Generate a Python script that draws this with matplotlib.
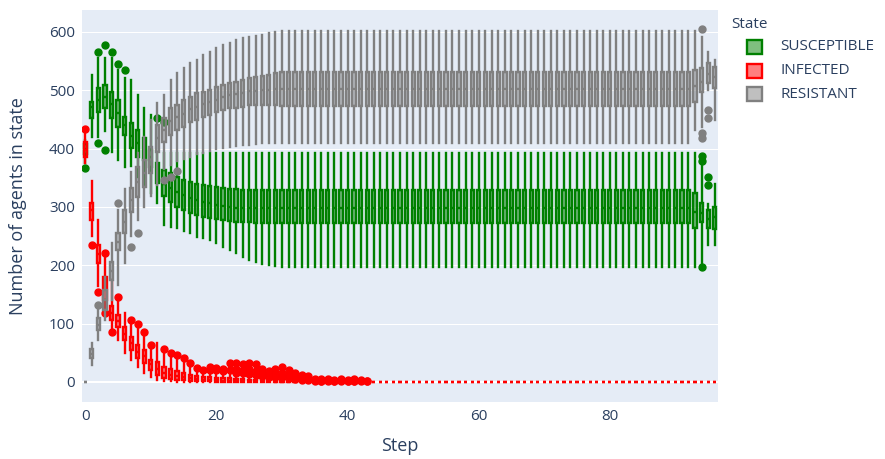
import matplotlib
matplotlib.use("Agg")
import matplotlib.pyplot as plt
from matplotlib.patches import Rectangle
from matplotlib.colors import to_rgba

W, H = 885, 459

steps = list(range(97))
states = ["SUSCEPTIBLE", "INFECTED", "RESISTANT"]
state_colors = ["green", "red", "gray"]

# ---------------- SUSCEPTIBLE ----------------
S_lo = [375, 420, 420, 430, 395, 381, 369, 370, 352, 335,
        324, 307, 269, 266, 264, 258, 255, 249, 246, 243,
        238, 232, 226, 221, 215, 209, 206, 202, 200, 198,
        197, 197, 197, 197, 197, 197, 197, 197, 197, 197,
        197, 197, 197, 197, 197, 197, 197, 197, 197, 197,
        197, 197, 197, 197, 197, 197, 197, 197, 197, 197,
        197, 197, 197, 197, 197, 197, 197, 197, 197, 197,
        197, 197, 197, 197, 197, 197, 197, 197, 197, 197,
        197, 197, 197, 197, 197, 197, 197, 197, 197, 197,
        197, 197, 197, 197, 204, 235, 235]
S_q1 = [390, 453, 463, 470, 453, 437, 424, 401, 386, 381,
        369, 341, 318, 308, 300, 295, 290, 286, 283, 281,
        279, 277, 276, 275, 274, 274, 273, 273, 273, 273,
        273, 273, 273, 273, 273, 273, 273, 273, 273, 273,
        273, 273, 273, 273, 273, 273, 273, 273, 273, 273,
        273, 273, 273, 273, 273, 273, 273, 273, 273, 273,
        273, 273, 273, 273, 273, 273, 273, 273, 273, 273,
        273, 273, 273, 273, 273, 273, 273, 273, 273, 273,
        273, 273, 273, 273, 273, 273, 273, 273, 273, 273,
        273, 273, 273, 264, 274, 264, 262]
S_med = [400, 472, 484, 488, 476, 461, 440, 422, 409, 400,
         385, 360, 340, 332, 325, 320, 316, 312, 309, 306,
         304, 302, 300, 299, 298, 298, 298, 298, 298, 298,
         298, 298, 298, 298, 298, 298, 298, 298, 298, 298,
         298, 298, 298, 298, 298, 298, 298, 298, 298, 298,
         298, 298, 298, 298, 298, 298, 298, 298, 298, 298,
         298, 298, 298, 298, 298, 298, 298, 298, 298, 298,
         298, 298, 298, 298, 298, 298, 298, 298, 298, 298,
         298, 298, 298, 298, 298, 298, 298, 298, 298, 298,
         298, 298, 298, 292, 290, 280, 282]
S_q3 = [408, 480, 504, 509, 497, 484, 455, 444, 432, 418,
        398, 376, 364, 358, 352, 346, 343, 340, 338, 336,
        334, 332, 331, 330, 329, 329, 329, 329, 329, 329,
        329, 329, 329, 329, 329, 329, 329, 329, 329, 329,
        329, 329, 329, 329, 329, 329, 329, 329, 329, 329,
        329, 329, 329, 329, 329, 329, 329, 329, 329, 329,
        329, 329, 329, 329, 329, 329, 329, 329, 329, 329,
        329, 329, 329, 329, 329, 329, 329, 329, 329, 329,
        329, 329, 329, 329, 329, 329, 329, 329, 329, 329,
        329, 329, 329, 324, 307, 295, 300]
S_hi = [415, 527, 556, 555, 556, 535, 521, 518, 492, 470,
        458, 393, 393, 393, 393, 393, 393, 393, 393, 393,
        393, 393, 393, 393, 393, 393, 393, 393, 393, 393,
        393, 393, 393, 393, 393, 393, 393, 393, 393, 393,
        393, 393, 393, 393, 393, 393, 393, 393, 393, 393,
        393, 393, 393, 393, 393, 393, 393, 393, 393, 393,
        393, 393, 393, 393, 393, 393, 393, 393, 393, 393,
        393, 393, 393, 393, 393, 393, 393, 393, 393, 393,
        393, 393, 393, 393, 393, 393, 393, 393, 393, 393,
        393, 393, 393, 393, 372, 305, 340]
S_out = {0: [367], 2: [566, 410], 3: [578, 398], 4: [566], 5: [545],
         6: [535], 11: [453], 12: [446], 94: [388, 378, 197], 95: [352, 338]}

# ---------------- INFECTED ----------------
I_lo = [375, 250, 165, 125, 92, 72, 50, 38, 26, 15,
        9, 3, 2, 1, 0, 0, 0, 0, 0, 0,
        0, 0, 0, 0, 0, 0, 0, 0, 0, 0,
        0, 0, 0, 0, 0, 0, 0, 0, 0, 0,
        0, 0, 0, 0, 0, 0, 0, 0, 0, 0,
        0, 0, 0, 0, 0, 0, 0, 0, 0, 0,
        0, 0, 0, 0, 0, 0, 0, 0, 0, 0,
        0, 0, 0, 0, 0, 0, 0, 0, 0, 0,
        0, 0, 0, 0, 0, 0, 0, 0, 0, 0,
        0, 0, 0, 0, 0, 0, 0]
I_q1 = [385, 278, 204, 140, 106, 95, 72, 55, 41, 33,
        21, 12, 7, 5, 4, 3, 2, 1, 1, 1,
        0, 0, 0, 0, 0, 0, 0, 0, 0, 0,
        0, 0, 0, 0, 0, 0, 0, 0, 0, 0,
        0, 0, 0, 0, 0, 0, 0, 0, 0, 0,
        0, 0, 0, 0, 0, 0, 0, 0, 0, 0,
        0, 0, 0, 0, 0, 0, 0, 0, 0, 0,
        0, 0, 0, 0, 0, 0, 0, 0, 0, 0,
        0, 0, 0, 0, 0, 0, 0, 0, 0, 0,
        0, 0, 0, 0, 0, 0, 0]
I_med = [398, 295, 220, 160, 118, 105, 83, 66, 52, 44,
         30, 22, 16, 12, 10, 8, 6, 5, 4, 3,
         3, 2, 2, 2, 1, 1, 1, 1, 1, 0,
         0, 0, 0, 0, 0, 0, 0, 0, 0, 0,
         0, 0, 0, 0, 0, 0, 0, 0, 0, 0,
         0, 0, 0, 0, 0, 0, 0, 0, 0, 0,
         0, 0, 0, 0, 0, 0, 0, 0, 0, 0,
         0, 0, 0, 0, 0, 0, 0, 0, 0, 0,
         0, 0, 0, 0, 0, 0, 0, 0, 0, 0,
         0, 0, 0, 0, 0, 0, 0]
I_q3 = [412, 307, 235, 180, 130, 115, 95, 77, 63, 55,
        38, 34, 26, 22, 18, 15, 12, 10, 9, 8,
        7, 6, 6, 5, 5, 4, 4, 3, 3, 2,
        2, 2, 1, 0, 0, 0, 0, 0, 0, 0,
        0, 0, 0, 0, 0, 0, 0, 0, 0, 0,
        0, 0, 0, 0, 0, 0, 0, 0, 0, 0,
        0, 0, 0, 0, 0, 0, 0, 0, 0, 0,
        0, 0, 0, 0, 0, 0, 0, 0, 0, 0,
        0, 0, 0, 0, 0, 0, 0, 0, 0, 0,
        0, 0, 0, 0, 0, 0, 0]
I_hi = [425, 345, 278, 214, 175, 140, 118, 101, 95, 80,
        60, 67, 50, 44, 40, 35, 28, 20, 18, 18,
        15, 12, 12, 12, 10, 10, 8, 7, 6, 5,
        5, 4, 3, 0, 0, 0, 0, 0, 0, 0,
        0, 0, 0, 0, 0, 0, 0, 0, 0, 0,
        0, 0, 0, 0, 0, 0, 0, 0, 0, 0,
        0, 0, 0, 0, 0, 0, 0, 0, 0, 0,
        0, 0, 0, 0, 0, 0, 0, 0, 0, 0,
        0, 0, 0, 0, 0, 0, 0, 0, 0, 0,
        0, 0, 0, 0, 0, 0, 0]
I_out = {0: [434], 1: [235], 2: [155], 3: [221, 118], 4: [86], 5: [146],
         7: [106], 8: [100], 9: [86], 10: [63], 12: [56], 13: [50], 14: [46],
         15: [41], 16: [33], 17: [24], 18: [21], 19: [26, 21], 20: [24, 20],
         21: [22, 18], 22: [33, 20], 23: [33, 22, 16], 24: [30, 20, 15],
         25: [33, 22, 14], 26: [30, 18, 12], 27: [22, 15, 10], 28: [18, 12, 9],
         29: [22, 14, 8], 30: [25, 16, 9], 31: [20, 12, 7], 32: [15, 8, 5],
         33: [12, 6, 3], 34: [10, 5, 3], 35: [5, 3, 1], 36: [5, 2, 1],
         37: [5, 3, 1], 38: [4, 2, 1], 39: [5, 3, 1], 40: [4, 2, 1],
         41: [5, 2, 1], 42: [3, 1], 43: [2, 1]}

# ---------------- RESISTANT ----------------
R_lo = [0, 29, 72, 106, 141, 166, 204, 250, 278, 300,
        318, 338, 365, 372, 378, 382, 386, 390, 393, 396,
        399, 401, 403, 405, 406, 407, 408, 409, 410, 410,
        410, 410, 410, 410, 410, 410, 410, 410, 410, 410,
        410, 410, 410, 410, 410, 410, 410, 410, 410, 410,
        410, 410, 410, 410, 410, 410, 410, 410, 410, 410,
        410, 410, 410, 410, 410, 410, 410, 410, 410, 410,
        410, 410, 410, 410, 410, 410, 410, 410, 410, 410,
        410, 410, 410, 410, 410, 410, 410, 410, 410, 410,
        410, 410, 410, 432, 437, 501, 449]
R_q1 = [0, 41, 89, 123, 175, 226, 255, 292, 317, 335,
        358, 395, 412, 424, 432, 437, 446, 449, 455, 458,
        463, 466, 470, 470, 472, 475, 475, 475, 475, 474,
        473, 473, 473, 473, 473, 473, 473, 473, 473, 473,
        473, 473, 473, 473, 473, 473, 473, 473, 473, 473,
        473, 473, 473, 473, 473, 473, 473, 473, 473, 473,
        473, 473, 473, 473, 473, 473, 473, 473, 473, 473,
        473, 473, 473, 473, 473, 473, 473, 473, 473, 473,
        473, 473, 473, 473, 473, 473, 473, 473, 473, 473,
        473, 473, 473, 480, 497, 513, 504]
R_med = [0, 48, 98, 140, 190, 240, 275, 312, 343, 358,
         380, 418, 432, 447, 454, 460, 468, 472, 476, 480,
         484, 488, 492, 494, 496, 498, 499, 500, 501, 502,
         503, 503, 503, 503, 503, 503, 503, 503, 503, 503,
         503, 503, 503, 503, 503, 503, 503, 503, 503, 503,
         503, 503, 503, 503, 503, 503, 503, 503, 503, 503,
         503, 503, 503, 503, 503, 503, 503, 503, 503, 503,
         503, 503, 503, 503, 503, 503, 503, 503, 503, 503,
         503, 503, 503, 503, 503, 503, 503, 503, 503, 503,
         503, 503, 503, 507, 515, 528, 522]
R_q3 = [0, 56, 110, 158, 206, 255, 295, 333, 369, 381,
        403, 441, 453, 470, 475, 484, 489, 496, 497, 501,
        506, 509, 513, 515, 518, 521, 523, 525, 527, 529,
        531, 531, 531, 531, 531, 531, 531, 531, 531, 531,
        531, 531, 531, 531, 531, 531, 531, 531, 531, 531,
        531, 531, 531, 531, 531, 531, 531, 531, 531, 531,
        531, 531, 531, 531, 531, 531, 531, 531, 531, 531,
        531, 531, 531, 531, 531, 531, 531, 531, 531, 531,
        531, 531, 531, 531, 531, 531, 531, 531, 531, 531,
        531, 531, 531, 535, 538, 547, 540]
R_hi = [0, 67, 125, 180, 238, 295, 330, 360, 393, 420,
        449, 478, 492, 518, 530, 538, 547, 552, 561, 566,
        573, 578, 581, 587, 590, 592, 593, 595, 598, 600,
        602, 602, 602, 602, 602, 602, 602, 602, 602, 602,
        602, 602, 602, 602, 602, 602, 602, 602, 602, 602,
        602, 602, 602, 602, 602, 602, 602, 602, 602, 602,
        602, 602, 602, 602, 602, 602, 602, 602, 602, 602,
        602, 602, 602, 602, 602, 602, 602, 602, 602, 602,
        602, 602, 602, 602, 602, 602, 602, 602, 602, 602,
        602, 602, 602, 602, 592, 566, 552]
R_out = {2: [132], 5: [307], 7: [232], 8: [255], 12: [346], 13: [352],
         14: [362], 94: [605, 427, 418], 95: [467, 453]}

series = [
    (S_lo, S_q1, S_med, S_q3, S_hi, S_out),
    (I_lo, I_q1, I_med, I_q3, I_hi, I_out),
    (R_lo, R_q1, R_med, R_q3, R_hi, R_out),
]

FONT = "Open Sans"
TXT = "#2a3f5f"
LW = 1.7

fig = plt.figure(figsize=(W / 100, H / 100), dpi=100)
ax = fig.add_axes([82 / W, 1 - 402 / H, 636 / W, 392 / H])
ax.set_facecolor("#E5ECF6")

for z, (name, col, (lo, q1, med, q3, hi, out)) in enumerate(zip(states, state_colors, series)):
    stats = []
    for k in range(len(steps)):
        stats.append(dict(med=med[k], q1=q1[k], q3=q3[k], whislo=lo[k],
                          whishi=hi[k], fliers=out.get(k, [])))
    ax.bxp(stats, positions=steps, widths=0.49, showcaps=False,
           patch_artist=True, showfliers=True, manage_ticks=False,
           boxprops=dict(facecolor=to_rgba(col, 0.5), edgecolor=col, linewidth=LW),
           whiskerprops=dict(color=col, linewidth=LW),
           medianprops=dict(color=col, linewidth=LW),
           flierprops=dict(marker="o", markerfacecolor=col, markeredgecolor=col,
                           markersize=5, linestyle="none"),
           zorder=3 + z)

ax.set_xlim(-0.5, 96.5)
ax.set_ylim(-34.3, 637.7)
ax.set_xticks([0, 20, 40, 60, 80])
ax.set_yticks([0, 100, 200, 300, 400, 500, 600])
ax.grid(axis="y", color="white", linewidth=0.75)
ax.grid(axis="x", visible=False)
ax.axhline(0, color="white", linewidth=1.44, zorder=1)
ax.set_axisbelow(True)
for s in ax.spines.values():
    s.set_visible(False)
ax.tick_params(length=0, labelsize=11, labelcolor=TXT, pad=5)
for lab in ax.get_xticklabels() + ax.get_yticklabels():
    lab.set_fontfamily(FONT)

fig.text(400 / W, 1 - 446 / H, "Step", ha="center", va="center",
         fontsize=13, color=TXT, family=FONT)
fig.text(18 / W, 1 - 206 / H, "Number of agents in state", ha="center", va="center",
         rotation=90, fontsize=13, color=TXT, family=FONT)

# legend
fig.text(731 / W, 1 - 24 / H, "State", ha="left", va="center",
         fontsize=11, color=TXT, family=FONT)
for i, (name, col) in enumerate(zip(states, state_colors)):
    yc = 47 + 23.5 * i
    fig.patches.append(Rectangle((747 / W, 1 - (yc + 7) / H), 15 / W, 14 / H,
                                 transform=fig.transFigure,
                                 facecolor=to_rgba(col, 0.5), edgecolor=col,
                                 linewidth=LW))
    fig.text(780 / W, 1 - yc / H, name, ha="left", va="center",
             fontsize=11, color=TXT, family=FONT)

fig.savefig("out.png", dpi=100, facecolor="white")
